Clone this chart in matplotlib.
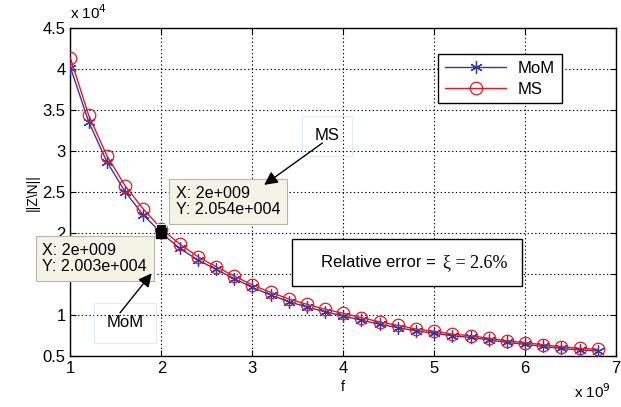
import matplotlib.pyplot as plt
import numpy as np
from matplotlib.patches import Rectangle

plt.rcParams["font.family"] = ["Liberation Sans", "DejaVu Sans"]

# frequency in units of 1e9 Hz, ||Z|| in units of 1e4
f = [1.0, 1.2, 1.4, 1.6, 1.8, 2.0, 2.2, 2.4, 2.6, 2.8, 3.0, 3.2, 3.4, 3.6, 3.8,
     4.0, 4.2, 4.4, 4.6, 4.8, 5.0, 5.2, 5.4, 5.6, 5.8, 6.0, 6.2, 6.4, 6.6, 6.8]
z_mom = [4.02, 3.36, 2.873, 2.507, 2.223, 2.003, 1.817, 1.675, 1.561, 1.447,
         1.34, 1.248, 1.168, 1.10, 1.044, 0.99, 0.94, 0.89, 0.85, 0.81,
         0.78, 0.75, 0.73, 0.70, 0.67, 0.645, 0.62, 0.595, 0.577, 0.565]
z_ms = [4.134, 3.44, 2.946, 2.58, 2.296, 2.054, 1.87, 1.715, 1.593, 1.479,
        1.37, 1.28, 1.199, 1.134, 1.073, 1.024, 0.97, 0.92, 0.878, 0.833,
        0.805, 0.77, 0.751, 0.72, 0.69, 0.666, 0.64, 0.617, 0.597, 0.585]

tip_x = 2.0
tip_mom = 2.003
tip_ms = 2.054

fig = plt.figure(figsize=(6.21, 4.07), dpi=100)
ax = fig.add_axes([0.1135, 0.1246, 0.8785, 0.806])

ax.plot(f, z_mom, "-", marker=(6, 2, 0), color="#2b3aa8", linewidth=1.0,
        markersize=9, markeredgewidth=0.9, label="MoM", zorder=3)
ax.plot(f, z_ms, "-o", color="#f0141e", linewidth=1.0, markersize=9,
        markerfacecolor="none", markeredgewidth=0.9, label="MS", zorder=4)

ax.set_xlim(1, 7)
ax.set_ylim(0.5, 4.5)
ax.set_xticks(np.arange(1, 8, 1))
ax.set_yticks(np.arange(0.5, 4.51, 0.5))
ax.set_yticklabels(["0.5", "1", "1.5", "2", "2.5", "3", "3.5", "4", "4.5"])
ax.tick_params(direction="in", labelsize=12, length=4, top=True, right=True)
ax.grid(True, color="black", linestyle=(0, (1.2, 2.2)), linewidth=0.8)
ax.set_axisbelow(True)
for s in ax.spines.values():
    s.set_linewidth(1.0)

ax.set_xlabel("f", fontsize=10, labelpad=3)
ax.set_ylabel("||Z\\N||", fontsize=10, labelpad=2)

fig.text(0.113, 0.945, "x 10$^4$", fontsize=11, ha="left", va="bottom")
fig.text(0.925, 0.015, "x 10$^9$", fontsize=11, ha="left", va="bottom")

leg = ax.legend(loc="upper right", bbox_to_anchor=(0.916, 0.946), fontsize=12,
                fancybox=False, edgecolor="black", framealpha=1,
                handlelength=3.7, borderpad=0.4, labelspacing=0.35,
                handletextpad=0.7)
leg.get_frame().set_linewidth(1.0)

# data tip markers
ax.plot([tip_x], [tip_ms], "s", color="black", markersize=7,
        markeredgecolor="#e8e8d8", markeredgewidth=0.8, zorder=6)
ax.plot([tip_x], [tip_mom], "s", color="black", markersize=7,
        markeredgecolor="black", zorder=6)

tip_box = dict(boxstyle="square,pad=0.42", facecolor="#f4f4e6",
               edgecolor="#b8b8a8", linewidth=0.8)
ax.text(2.16, 2.39, "X: 2e+009\nY: 2.054e+004", fontsize=11.6, ha="left",
        va="center", bbox=tip_box, zorder=7, linespacing=1.1)
ax.text(0.69, 1.69, "X: 2e+009\nY: 2.003e+004", fontsize=11.6, ha="left",
        va="center", bbox=tip_box, zorder=7, linespacing=1.1, clip_on=False)

# arrow annotations
arrow = dict(arrowstyle="-|>", color="black", lw=1.0, mutation_scale=20,
             shrinkA=0, shrinkB=0)
faint = dict(boxstyle="square,pad=0.75", facecolor="none",
             edgecolor="#e2ecee", linewidth=0.8)
ax.annotate("", xy=(3.13, 2.59), xytext=(3.77, 3.1), arrowprops=arrow, zorder=8)
ax.text(3.82, 3.19, "MS", fontsize=12, ha="center", va="center", bbox=faint)
ax.annotate("", xy=(1.893, 1.512), xytext=(1.545, 1.03), arrowprops=arrow, zorder=8)
ax.text(1.6, 0.91, "MoM", fontsize=12, ha="center", va="center", bbox=faint)

# relative error box
ax.add_patch(Rectangle((3.44, 1.355), 2.53, 0.57, facecolor="white",
                       edgecolor="black", linewidth=1.0, zorder=7))
ax.text(5.02, 1.64, "Relative error =", fontsize=12, ha="right",
        va="center", zorder=8)
ax.text(5.1, 1.64, "\u03be = 2.6%", fontsize=13, ha="left", va="center",
        family=["Liberation Serif", "DejaVu Serif"], zorder=8)

fig.savefig("out.png", dpi=100)
